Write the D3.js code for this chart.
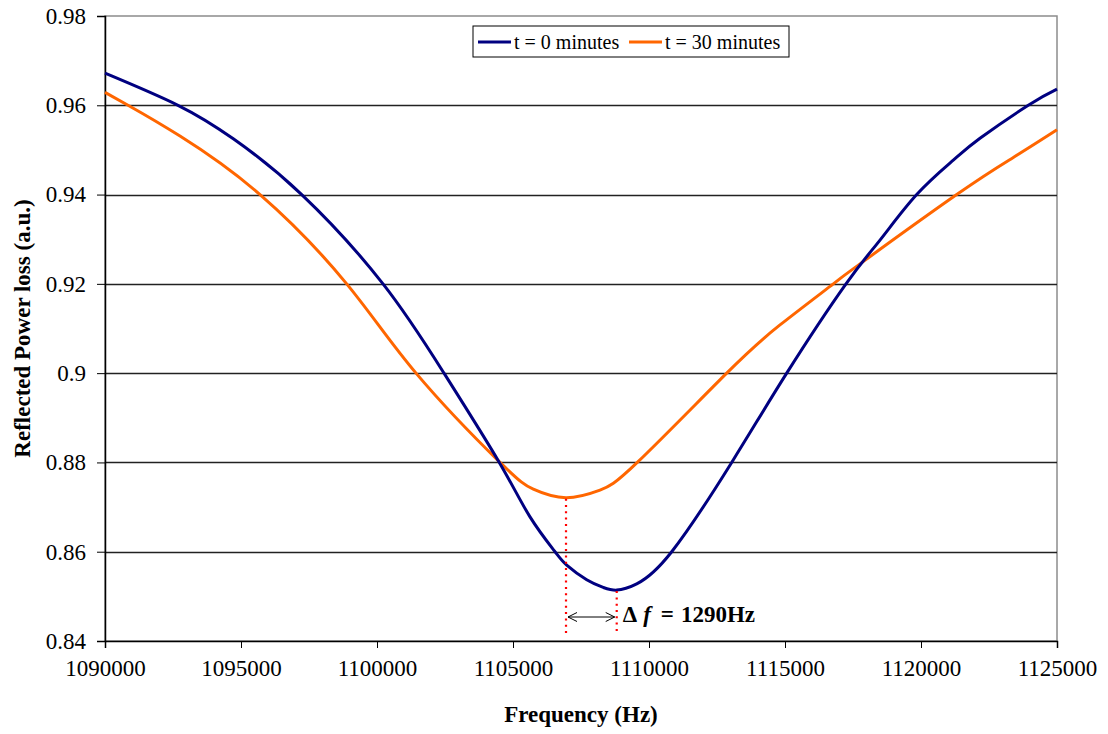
<!DOCTYPE html>
<html>
<head>
<meta charset="utf-8">
<script src="https://cdn.jsdelivr.net/npm/d3@7"></script>
<style>
  body { margin: 0; background: #fff; }
  svg { display: block; }
  text { font-family: "Liberation Serif", "Times New Roman", serif; fill: #000; }
</style>
</head>
<body>
<div id="chart"></div>
<script>
// series
var blueFreq = [1090000, 1092684, 1094717, 1097232, 1100221, 1102463, 1104496, 1105625,
  1106544, 1106975, 1107709, 1108320, 1108813, 1109548, 1110835,
  1113040, 1115063, 1117243, 1118493, 1119842, 1121188, 1122169, 1123945, 1125000];
var blueVal = [0.9672, 0.9600, 0.9525, 0.9400, 0.9200, 0.9000, 0.8800, 0.8678,
  0.8600, 0.8570, 0.8537, 0.8520, 0.8514, 0.8528, 0.8600,
  0.8800, 0.9000, 0.9200, 0.9298, 0.9400, 0.9477, 0.9526, 0.9600, 0.9636];

var orangeFreq = [1090000, 1090846, 1092757, 1095699, 1098886, 1101434, 1104522, 1105747,
  1106949, 1108199, 1109570, 1112857, 1114816, 1116776, 1117695,
  1121313, 1123394, 1125000];
var orangeVal = [0.9629, 0.9600, 0.9531, 0.9400, 0.9200, 0.9000, 0.8800, 0.8740,
  0.8721, 0.8738, 0.8800, 0.9000, 0.9108, 0.9200, 0.9242,
  0.9400, 0.9483, 0.9545];

var seriesNames = ['t = 0 minutes', 't = 30 minutes'];
var seriesColors = ['#000080', '#ff6600'];

var xTicks = [1090000, 1095000, 1100000, 1105000, 1110000, 1115000, 1120000, 1125000];
var yTicks = [0.84, 0.86, 0.88, 0.9, 0.92, 0.94, 0.96, 0.98];

var xTitle = 'Frequency (Hz)';
var yTitle = 'Reflected Power loss (a.u.)';
var deltaLabel = '1290Hz';

var width = 1108;
var height = 734;
var margin = {top: 16, right: 51, bottom: 93, left: 105};
var plotW = width - margin.left - margin.right;
var plotH = height - margin.top - margin.bottom;
var serif = '"Liberation Serif", "Times New Roman", serif';

var svg = d3.select('#chart').append('svg')
  .attr('width', width)
  .attr('height', height);

var x = d3.scaleLinear().domain([1090000, 1125000]).range([0, plotW]);
var y = d3.scaleLinear().domain([0.84, 0.98]).range([plotH, 0]);

var g = svg.append('g')
  .attr('transform', 'translate(' + margin.left + ',' + margin.top + ')');

// plot border (gray) and horizontal gridlines
g.append('rect')
  .attr('width', plotW)
  .attr('height', plotH)
  .attr('fill', 'none')
  .attr('stroke', '#8c8c8c')
  .attr('stroke-width', 1.5);

g.selectAll('line.grid')
  .data(yTicks.filter(function(d) { return d > 0.84 && d < 0.98; }))
  .enter().append('line')
    .attr('class', 'grid')
    .attr('x1', 0)
    .attr('x2', plotW)
    .attr('y1', function(d) { return Math.round(y(d)) + 0.5; })
    .attr('y2', function(d) { return Math.round(y(d)) + 0.5; })
    .attr('stroke', '#222')
    .attr('stroke-width', 1.3);

// axes
var xAxis = d3.axisBottom(x)
  .tickValues(xTicks)
  .tickSize(7)
  .tickPadding(12)
  .tickFormat(d3.format('d'));

var yAxis = d3.axisLeft(y)
  .tickValues(yTicks)
  .tickSize(8)
  .tickPadding(11)
  .tickFormat(function(d) { return String(+d.toFixed(2)); });

var gx = g.append('g')
  .attr('transform', 'translate(0,' + plotH + ')')
  .call(xAxis);
var gy = g.append('g').call(yAxis);

[gx, gy].forEach(function(ax) {
  ax.attr('font-family', null).attr('font-size', null);
  ax.select('.domain').attr('stroke', '#000').attr('stroke-width', 1.5);
  ax.selectAll('.tick line').attr('stroke', '#000');
  ax.selectAll('.tick text')
    .style('font-family', serif)
    .style('font-size', '23px');
});
gx.selectAll('.tick text').attr('dy', '0.71em').attr('y', 19);

// curves
var line = d3.line()
  .x(function(d) { return x(d[0]); })
  .y(function(d) { return y(d[1]); })
  .curve(d3.curveNatural);

var blue = d3.zip(blueFreq, blueVal);
var orange = d3.zip(orangeFreq, orangeVal);

g.append('path')
  .datum(orange)
  .attr('fill', 'none')
  .attr('stroke', seriesColors[1])
  .attr('stroke-width', 3)
  .attr('d', line);

g.append('path')
  .datum(blue)
  .attr('fill', 'none')
  .attr('stroke', seriesColors[0])
  .attr('stroke-width', 3)
  .attr('d', line);

// shift annotation: dotted drops from both minima
var blueMin = d3.least(blue, function(d) { return d[1]; });
var orangeMin = d3.least(orange, function(d) { return d[1]; });
var dropEnd = y(0.8418);

[orangeMin, blueMin].forEach(function(m) {
  g.append('line')
    .attr('x1', x(m[0]))
    .attr('x2', x(m[0]))
    .attr('y1', y(m[1]) + 1)
    .attr('y2', dropEnd)
    .attr('stroke', '#ff0000')
    .attr('stroke-width', 2.2)
    .attr('stroke-dasharray', '2,4.3');
});

var defs = svg.append('defs');
defs.append('marker')
  .attr('id', 'arrowEnd')
  .attr('viewBox', '-10 -6 12 12')
  .attr('markerWidth', 12)
  .attr('markerHeight', 12)
  .attr('markerUnits', 'userSpaceOnUse')
  .attr('orient', 'auto-start-reverse')
  .append('path')
    .attr('d', 'M-9,-4.5L0,0L-9,4.5')
    .attr('fill', 'none')
    .attr('stroke', '#000')
    .attr('stroke-width', 1);

var arrowY = 617 - margin.top;
g.append('line')
  .attr('x1', x(orangeMin[0]) + 2)
  .attr('x2', x(blueMin[0]) - 2)
  .attr('y1', arrowY)
  .attr('y2', arrowY)
  .attr('stroke', '#000')
  .attr('stroke-width', 1)
  .attr('marker-start', 'url(#arrowEnd)')
  .attr('marker-end', 'url(#arrowEnd)');

var dl = g.append('text')
  .attr('x', x(blueMin[0]) + 6)
  .attr('y', arrowY + 5)
  .attr('font-size', 23)
  .attr('font-weight', 'bold');
dl.append('tspan').text('\u0394');
dl.append('tspan').attr('dx', 6).attr('font-style', 'italic').text('f');
dl.append('tspan').attr('dx', 10).text('=');
dl.append('tspan').attr('dx', 7).text(deltaLabel);

// legend
var legend = svg.append('g').attr('transform', 'translate(473,26)');
legend.append('rect')
  .attr('width', 316)
  .attr('height', 31)
  .attr('fill', '#fff')
  .attr('stroke', '#000')
  .attr('stroke-width', 1);

var legendX = [5, 156];
seriesNames.forEach(function(name, i) {
  var item = legend.append('g').attr('transform', 'translate(' + legendX[i] + ',0)');
  item.append('line')
    .attr('x1', 0).attr('x2', 33)
    .attr('y1', 16).attr('y2', 16)
    .attr('stroke', seriesColors[i])
    .attr('stroke-width', 3);
  item.append('text')
    .attr('x', 36)
    .attr('y', 23)
    .attr('font-size', 20)
    .text(name);
});

// axis titles
svg.append('text')
  .attr('x', margin.left + plotW / 2)
  .attr('y', 722)
  .attr('text-anchor', 'middle')
  .attr('font-size', 23)
  .attr('font-weight', 'bold')
  .text(xTitle);

svg.append('text')
  .attr('transform', 'translate(30,' + (margin.top + plotH / 2) + ') rotate(-90)')
  .attr('text-anchor', 'middle')
  .attr('font-size', 23)
  .attr('font-weight', 'bold')
  .text(yTitle);
</script>
</body>
</html>
